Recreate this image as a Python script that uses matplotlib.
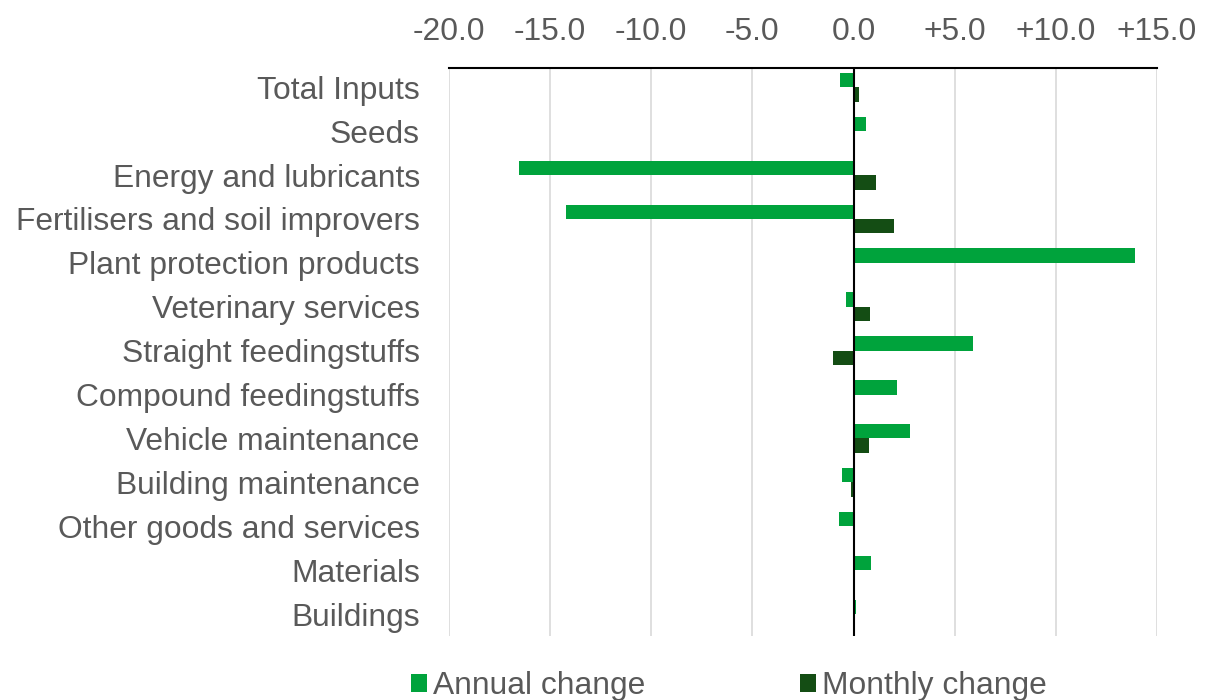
import numpy as np
import matplotlib.pyplot as plt

plt.rcParams['font.family'] = ['Liberation Sans', 'DejaVu Sans']

categories = ["Total Inputs", "Seeds", "Energy and lubricants",
              "Fertilisers and soil improvers", "Plant protection products",
              "Veterinary services", "Straight feedingstuffs",
              "Compound feedingstuffs", "Vehicle maintenance",
              "Building maintenance", "Other goods and services",
              "Materials", "Buildings"]
annual = [-0.66, 0.59, -16.55, -14.23, 13.89, -0.38, 5.89, 2.13, 2.77, -0.58, -0.72, 0.86, 0.12]
monthly = [0.28, 0.0, 1.09, 1.99, 0.0, 0.79, -1.03, 0.0, 0.74, -0.14, 0.0, 0.0, 0.0]
ticks = [-20, -15, -10, -5, 0, 5, 10, 15]

grey = "#595959"
fs = 22.9
fig = plt.figure(figsize=(12.06, 7), dpi=100)
ax = fig.add_axes([449/1206, 1-636/700, (1157-449)/1206, (636-68)/700])

y = np.arange(len(categories))
h = 0.33
ax.barh(y - h/2, annual, height=h, color="#00A33C", label="Annual change", zorder=3)
ax.barh(y + h/2, monthly, height=h, color="#144D14", label="Monthly change", zorder=3)

ax.set_xlim(-20, 15)
ax.set_ylim(12.5, -0.44)
ax.set_xticks(ticks)
ax.set_xticklabels(["%.1f" % t if t <= 0 else "+%.1f" % t for t in ticks])
ax.xaxis.tick_top()
ax.set_yticks(y)
ax.set_yticklabels(categories)
ax.tick_params(axis='both', length=0, labelsize=fs, colors=grey, pad=15)
ax.tick_params(axis='y', pad=21)
ax.grid(axis='x', color="#D9D9D9", linewidth=1.2, zorder=0)
ax.axvline(0, color="black", linewidth=1.5, zorder=4)
for s in ["left", "right", "bottom"]:
    ax.spines[s].set_visible(False)
ax.spines["top"].set_color("black")
ax.spines["top"].set_linewidth(1.5)

fig.legend(loc="center", bbox_to_anchor=(729/1206, 1-686/700), ncol=2, frameon=False,
           fontsize=fs, labelcolor=grey, handlelength=0.5, handleheight=0.5,
           handletextpad=0.2, columnspacing=4.85, borderpad=0, borderaxespad=0)

fig.savefig("out.png", dpi=100)
